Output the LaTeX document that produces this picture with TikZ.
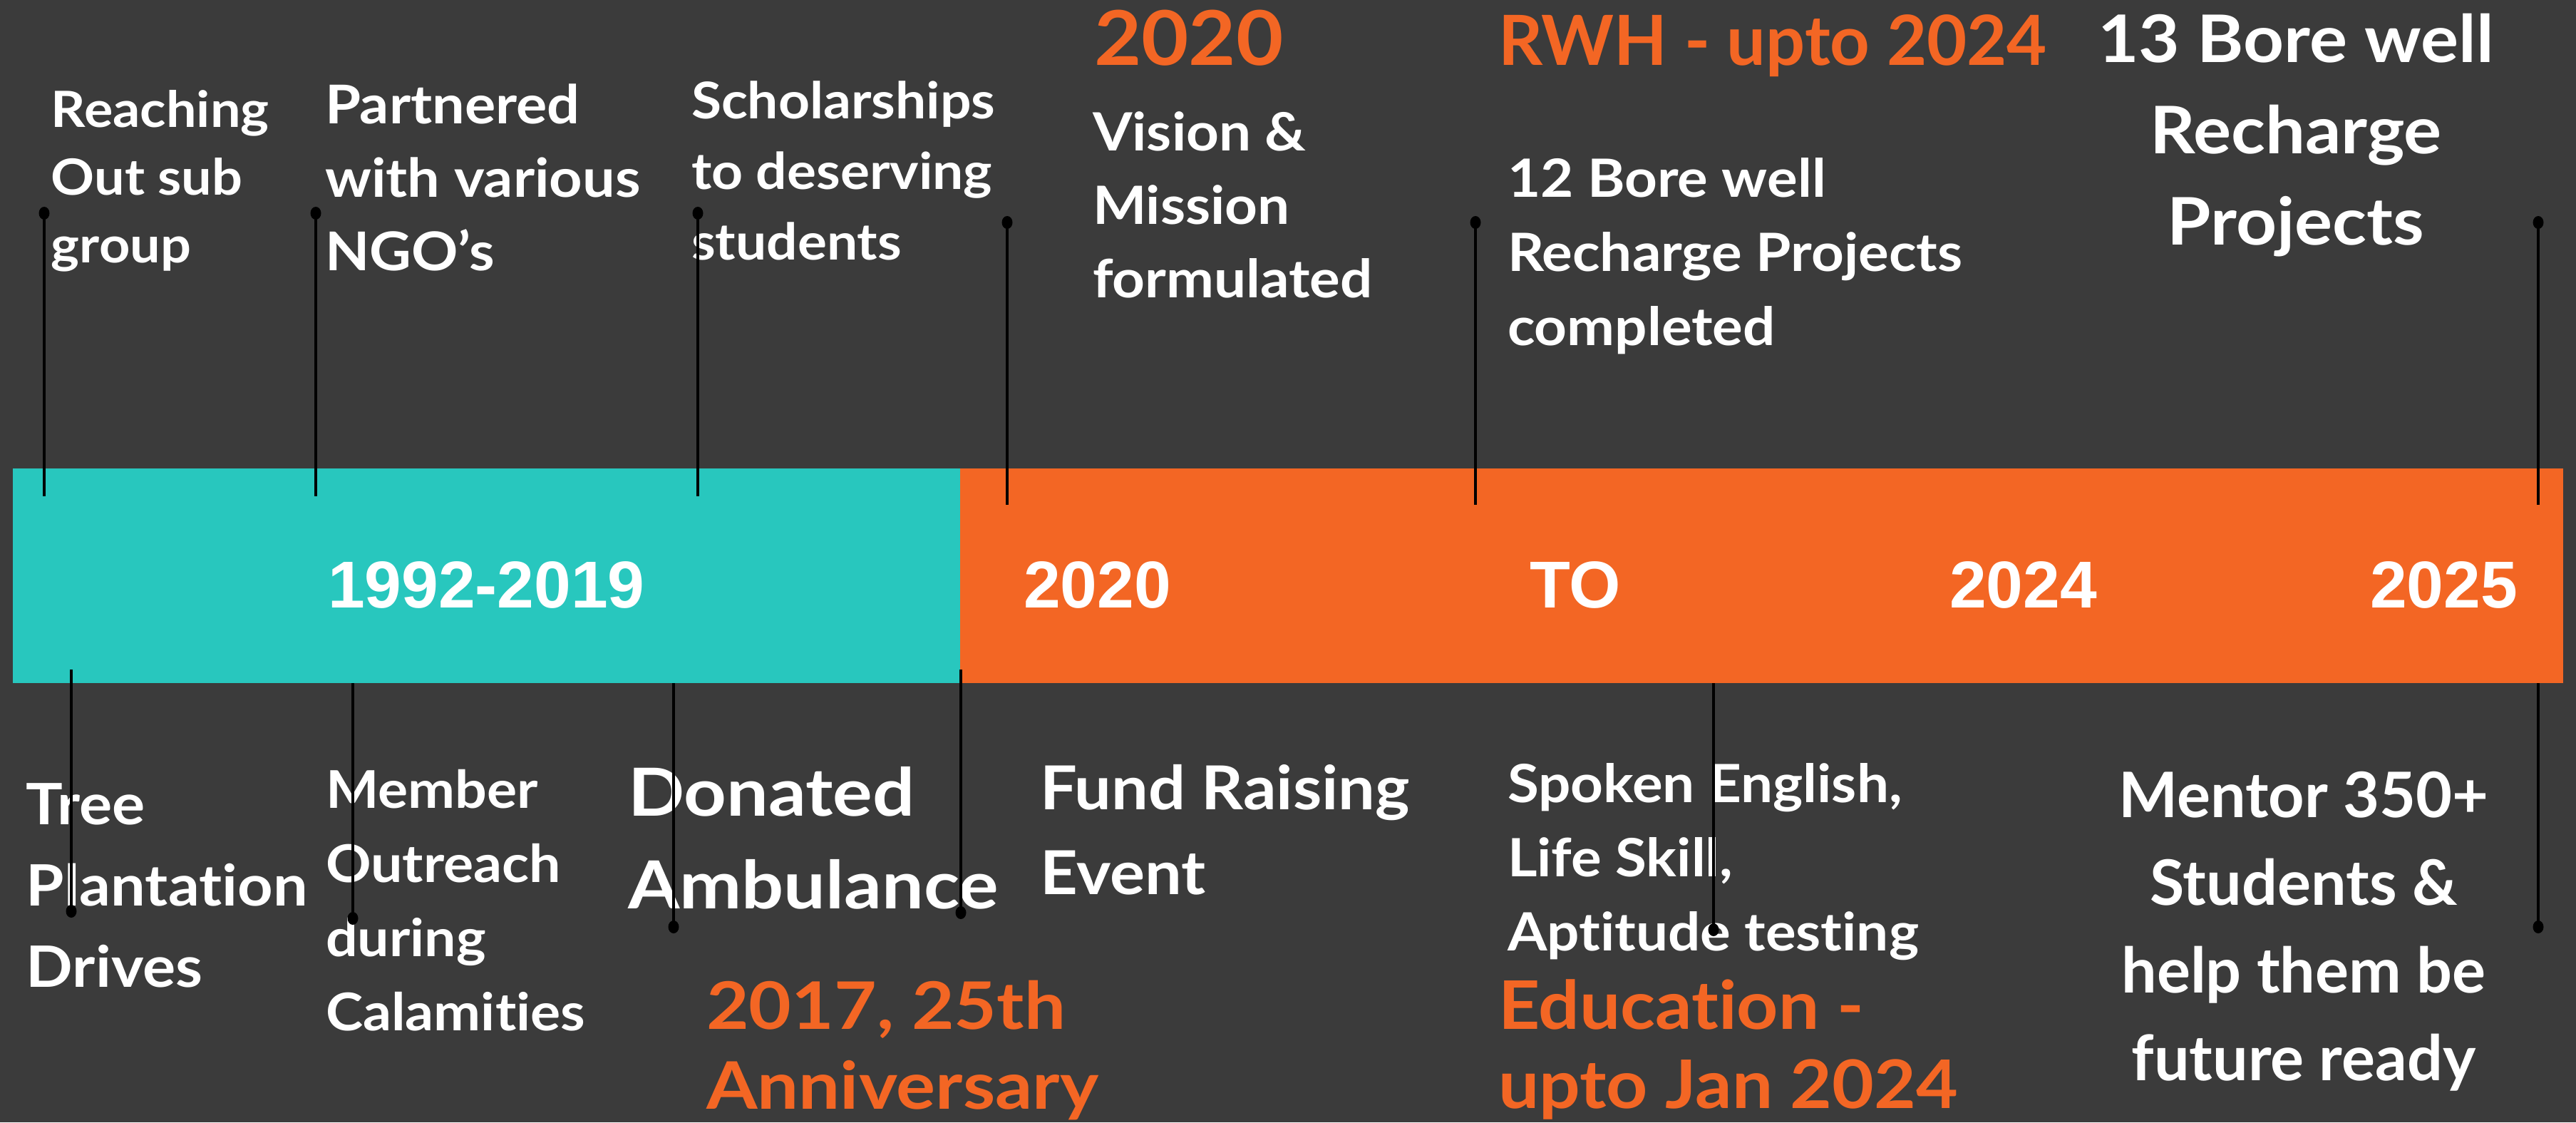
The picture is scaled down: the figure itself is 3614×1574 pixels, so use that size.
\documentclass[tikz,border=0pt]{standalone}
\usepackage{fontspec}
\usetikzlibrary{shapes.geometric}
\newfontfamily\lato{Lato}[Ligatures=NoCommon]
\newfontfamily\latow{Lato}[FakeStretch=1.08, Ligatures=NoCommon]
\newfontfamily\latoww{Lato}[FakeStretch=1.12, Ligatures=NoCommon]
\newfontfamily\arialf{Liberation Sans}
\newcommand\fsz[2]{\fontsize{\fpeval{#1*0.2}pt}{\fpeval{#2*0.2}pt}\selectfont}
\definecolor{bg}{RGB}{59,59,59}
\definecolor{teal}{RGB}{40,199,190}
\definecolor{orng}{RGB}{243,102,36}
\tikzset{
  lab/.style={text=white, inner sep=0pt, anchor=base west, align=left, font=\latow\bfseries},
  labc/.style={text=white, inner sep=0pt, anchor=base, align=center, font=\lato\bfseries},
  olab/.style={lab, text=orng},
  barlab/.style={text=white, inner sep=0pt, anchor=base west, font=\arialf\bfseries\fsz{93}{100}},
  dotn/.style={ellipse, fill=black, draw=none, minimum width=3pt, minimum height=3.6pt, inner sep=0pt},
  tick/.style={black, line width=0.8pt}
}
\begin{document}
\begin{tikzpicture}[x=0.2pt, y=-0.2pt]
\useasboundingbox (0,0) rectangle (3614,1574);
\fill[bg] (0,0) rectangle (3614,1574);
% bar
\fill[teal] (18,657) rectangle (1347,958);
\fill[orng] (1347,657) rectangle (3596,958);
\node[barlab] (b1) at (459,852) {1992-2019};
\node[barlab] (b2) at (1435,852) {2020};
\node[barlab] (b3) at (2145,852) {TO};
\node[barlab] (b4) at (2734,852) {2024};
\node[barlab] (b5) at (3324,852) {2025};
% top labels (anchor = baseline of last line)
\node[lab, font=\latow\bfseries\fsz{70}{95}] (t1) at (71,368) {Reaching\\Out sub\\group};
\node[lab, font=\latow\bfseries\fsz{75}{103}] (t2) at (455,379) {Partnered\\with various\\NGO’s};
\node[lab, font=\latow\bfseries\fsz{71}{99}] (t3) at (969,364) {Scholarships\\to deserving\\students};
\node[olab, font=\latow\bfseries\fsz{106}{110}] (t4) at (1534,91) {2020};
\node[lab, font=\latow\bfseries\fsz{74}{103}] (t5) at (1532,417) {Vision \&\\Mission\\formulated};
\node[olab, font=\lato\bfseries\fsz{97}{110}] (t6) at (2101,91) {RWH - upto 2024};
\node[lab, font=\latow\bfseries\fsz{74}{104}] (t7) at (2114,484) {12 Bore well\\Recharge Projects\\completed};
\node[labc, font=\latow\bfseries\fsz{92}{128}] (t8) at (3221,343) {13 Bore well\\Recharge\\Projects};
% bottom labels
\node[lab, font=\latow\bfseries\fsz{80}{114}] (u1) at (36,1384) {Tree\\Plantation\\Drives};
\node[lab, font=\latow\bfseries\fsz{73}{104}] (u2) at (456,1445) {Member\\Outreach\\during\\Calamities};
\node[lab, font=\latoww\bfseries\fsz{93}{130}] (u3) at (880,1274) {Donated\\Ambulance};
\node[olab, font=\latoww\bfseries\fsz{92}{112}] (u4) at (990,1555) {2017, 25th\\Anniversary};
\node[lab, font=\latow\bfseries\fsz{85}{119}] (u5) at (1458,1254) {Fund Raising\\Event};
\node[lab, font=\latow\bfseries\fsz{74}{104}] (u6) at (2114,1333) {Spoken English,\\Life Skill,\\Aptitude testing};
\node[olab, font=\latow\bfseries\fsz{94}{111}] (u7) at (2101,1554) {Education -\\upto Jan 2024};
\node[labc, font=\lato\bfseries\fsz{88}{123}] (u8) at (3232,1515) {Mentor 350+\\Students \&\\help them be\\future ready};
% top ticks
\foreach \i/\x/\ya/\yb in {1/62/299/696, 2/443/299/696, 3/979/299/696, 4/1413/312/708, 5/2070/312/708, 6/3561/312/708}{
  \node[dotn] (dt\i) at (\x,\ya) {};
  \coordinate (et\i) at (\x,\yb);
  \draw[tick] (dt\i.center) -- (et\i);
}
% bottom ticks
\foreach \i/\x/\ya/\yb in {1/100/939/1278, 2/495/958/1288, 3/945/958/1300, 4/1348/939/1280, 5/2404/958/1304, 6/3561/958/1300}{
  \coordinate (sb\i) at (\x,\ya);
  \node[dotn] (db\i) at (\x,\yb) {};
  \draw[tick] (sb\i) -- (db\i.center);
}
\end{tikzpicture}
\end{document}
